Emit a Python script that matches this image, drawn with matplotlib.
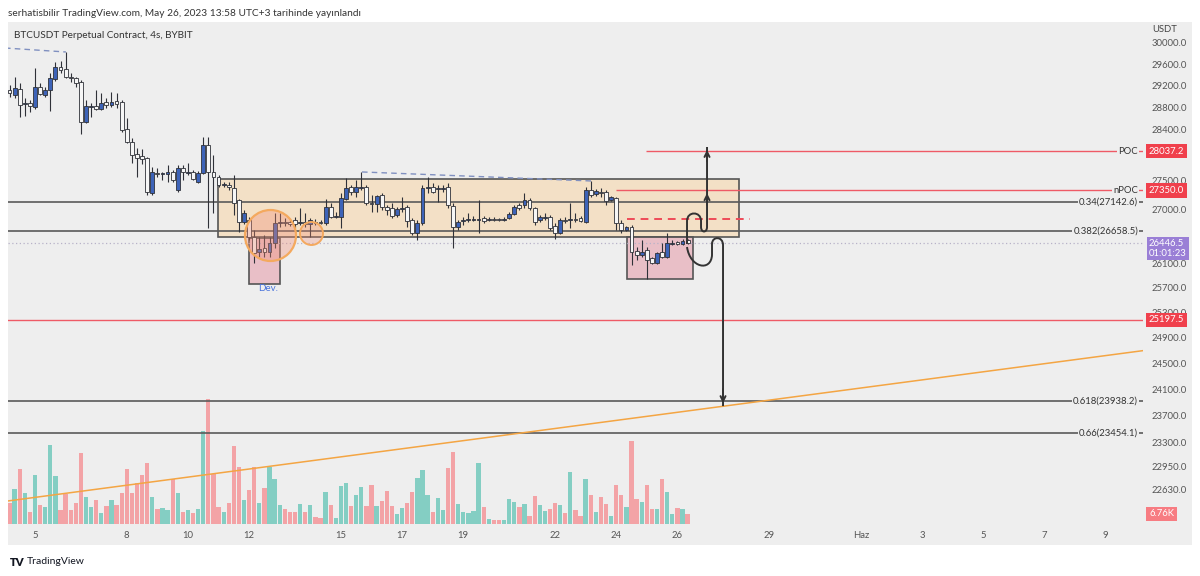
import numpy as np
import matplotlib
matplotlib.use("Agg")
import matplotlib.pyplot as plt
from matplotlib.patches import Rectangle, PathPatch
from matplotlib.path import Path

plt.rcParams['font.family'] = ['Lato', 'DejaVu Sans']

# ---------------- data ----------------
opens = [29140, 29048, 29159, 28884, 28902, 28829, 29196, 29048, 29140, 29344,
         29567, 29530, 29381, 29362, 29288, 28557, 28829, 28847, 28792, 28920,
         28866, 28939, 28920, 28431, 28198, 27985, 27950, 27914, 27304, 27652,
         27634, 27634, 27669, 27356, 27739, 27652, 27669, 27494, 27652, 28145,
         27669, 27581, 27442, 27442, 27391, 27183, 26808, 26842, 26554, 26304,
         26370, 26304, 26454, 26791, 26808, 26808, 26842, 26791, 26808, 26774,
         26808, 26808, 26791, 27063, 26893, 26893, 27200, 27408, 27321, 27391,
         27408, 27132, 27115, 27270, 27063, 27046, 26927, 27029, 27063, 26842,
         26622, 26791, 27391, 27408, 27373, 27373, 27408, 27081, 26723, 26825,
         26842, 26842, 26842, 26876, 26842, 26859, 26859, 26842, 26876, 26944,
         27098, 27098, 27183, 27046, 26842, 26876, 26893, 26740, 26622, 26842,
         26842, 26859, 26876, 26808, 27356, 27287, 27321, 27321, 27183, 27218,
         26791, 26672, 26723, 26320, 26254, 26337, 26204, 26121, 26304, 26221,
         26437, 26471, 26437, 26504]
highs = [29232, 29381, 29270, 28994, 28957, 29548, 29270, 29196, 29455, 29661,
         29680, 29849, 29455, 29381, 29325, 28957, 28902, 29140, 29085, 28994,
         29103, 29085, 28957, 28629, 28270, 28092, 28074, 27932, 27757, 27739,
         27669, 27792, 27704, 27792, 27792, 27826, 27704, 27687, 28288, 28288,
         27967, 27617, 27494, 27494, 27617, 27200, 27012, 26893, 26672, 26554,
         26588, 26554, 26961, 26961, 26876, 26859, 26893, 27046, 26961, 26876,
         26859, 26842, 27200, 27132, 26978, 27304, 27564, 27442, 27529, 27669,
         27442, 27270, 27270, 27304, 27098, 27132, 27063, 27235, 27098, 26876,
         26842, 27442, 27581, 27477, 27442, 27442, 27477, 27132, 26842, 26893,
         26961, 26910, 27183, 26910, 26893, 26893, 26876, 26893, 26978, 27098,
         27132, 27304, 27218, 27063, 26927, 26961, 26927, 26791, 26876, 26893,
         27132, 26961, 26910, 27408, 27512, 27373, 27391, 27356, 27252, 27235,
         26842, 26740, 26757, 26387, 26504, 26387, 26221, 26304, 26454, 26622,
         26504, 26487, 26521, 26521]
lows = [29012, 28994, 28647, 28665, 28738, 28792, 29048, 29012, 28756, 29307,
        29455, 29362, 29288, 29196, 28341, 28539, 28647, 28774, 28774, 28811,
        28829, 28811, 28377, 28181, 27826, 27581, 27809, 27270, 27270, 27581,
        27529, 27494, 27494, 27321, 27529, 27617, 27529, 27477, 27634, 26706,
        26961, 27408, 27408, 27356, 26927, 26638, 26774, 26504, 26121, 26221,
        26221, 26221, 26370, 26723, 26740, 26740, 26706, 26757, 26723, 26554,
        26757, 26774, 26757, 26876, 26876, 26706, 27183, 27270, 27235, 27356,
        27098, 26978, 26978, 27012, 26927, 26876, 26893, 26978, 26723, 26588,
        26504, 26757, 27304, 27304, 27149, 27321, 27046, 26370, 26672, 26757,
        26808, 26825, 26622, 26791, 26825, 26825, 26825, 26825, 26859, 26927,
        27012, 27046, 27012, 26757, 26808, 26842, 26672, 26521, 26605, 26791,
        26706, 26808, 26808, 26791, 27235, 27252, 27235, 27098, 27166, 26672,
        26622, 26655, 26088, 26171, 26221, 25859, 26105, 26105, 26204, 26204,
        26420, 26420, 26420, 26437]
closes = [29085, 29177, 28866, 28902, 28847, 29196, 29067, 29140, 29362, 29567,
          29511, 29381, 29362, 29270, 28557, 28847, 28847, 28792, 28902, 28866,
          28920, 28884, 28413, 28198, 27967, 27914, 27897, 27321, 27669, 27634,
          27652, 27669, 27529, 27739, 27669, 27669, 27547, 27652, 28145, 27669,
          27581, 27442, 27460, 27408, 27132, 26808, 26961, 26554, 26287, 26354,
          26304, 26454, 26791, 26808, 26791, 26774, 26774, 26808, 26774, 26842,
          26791, 26791, 27063, 26893, 26910, 27218, 27391, 27321, 27408, 27408,
          27132, 27115, 27252, 27063, 27012, 26910, 27029, 27046, 26825, 26622,
          26791, 27391, 27408, 27321, 27391, 27391, 27098, 26723, 26808, 26842,
          26859, 26859, 26859, 26825, 26859, 26842, 26842, 26859, 26944, 27063,
          27046, 27183, 27046, 26808, 26893, 26893, 26706, 26622, 26842, 26825,
          26859, 26842, 26825, 27356, 27270, 27339, 27304, 27166, 27235, 26791,
          26672, 26723, 26304, 26254, 26304, 26171, 26121, 26287, 26221, 26454,
          26454, 26437, 26487, 26446.5]
volumes_k = [14.2, 23.7, 37.2, 21.0, 8.1, 33.1, 12.8, 11.5, 53.4, 32.4,
             9.5, 20.3, 9.5, 14.2, 48.0, 18.3, 11.5, 16.2, 7.4, 12.2,
             16.2, 12.8, 21.0, 37.2, 21.0, 27.7, 33.1, 41.2, 18.3, 10.1,
             10.8, 9.5, 30.4, 21.0, 8.1, 9.5, 7.4, 10.1, 62.9, 84.5,
             33.8, 11.5, 8.1, 14.2, 52.7, 38.5, 16.2, 23.0, 38.5, 14.2,
             24.3, 38.5, 30.4, 12.8, 10.1, 8.1, 8.1, 13.5, 8.1, 12.8,
             4.7, 4.1, 21.6, 12.8, 4.1, 25.7, 27.7, 12.2, 19.6, 25.0,
             12.2, 26.4, 12.2, 15.5, 22.3, 12.2, 6.8, 10.8, 14.2, 21.6,
             31.1, 36.5, 19.6, 8.1, 17.6, 9.5, 37.9, 48.7, 13.5, 8.1,
             7.4, 8.8, 41.2, 11.5, 3.4, 2.7, 2.7, 2.7, 16.9, 14.9,
             11.5, 13.5, 5.4, 18.9, 12.8, 8.8, 10.1, 14.2, 12.8, 7.4,
             35.2, 9.5, 5.4, 30.4, 19.6, 8.1, 18.3, 13.5, 5.4, 26.4,
             19.6, 11.5, 56.1, 16.9, 14.9, 26.4, 10.1, 10.1, 30.4, 21.6,
             6.8, 10.8, 10.1, 6.76]

first_bar_day = 4 + 4 / 24      # 4 May, 04:00 (UTC+3)
bar_hours = 4

# visible price-scale labels (those hidden under the coloured tags are left out)
price_ticks = [30000, 29600, 29200, 28800, 28400, 27500, 27000,
               26100, 25700, 25300, 24900, 24500, 24100, 23700, 23300, 22950,
               22630]
date_tick_days = [5, 8, 10, 12, 15, 17, 19, 22, 24, 26, 29, 32, 34, 36, 38, 40]
date_tick_labels = ['5', '8', '10', '12', '15', '17', '19', '22', '24', '26',
                    '29', 'Haz', '3', '5', '7', '9']

fib_ratios = ['0.34', '0.382', '0.618', '0.66']
fib_prices = [27142.6, 26658.5, 23938.2, 23454.1]
poc_price = 28037.2
npoc_price = 27350.0
support_price = 25197.5
last_price = 26446.5
countdown = '01:01:23'
last_volume_label = '6.76K'

# drawings (day-of-May, price)
range_box = (10.98, 26554, 28.01, 27547)
dev_box = (11.996, 25778, 13.01, 26537)
right_box = (24.35, 25859, 26.51, 26554)
dashed_red = (24.35, 28.37, 26859)
poc_start, npoc_start = 24.97, 23.99
blue_dash_1 = ([4.02, 6.01], [29924, 29849])
blue_dash_2 = ([15.69, 23.18], [27669, 27512])
trend_x = [4.117, 41.22]
trend_y = [22474, 24714]
big_circle = (12.68, 26588)
small_circle = (14.02, 26622)
dev_label_pos = (12.62, 25696)
last_tag_anchor = 26362

up_path_days = [26.314, 26.314, 26.314, 26.772, 26.772, 26.772, 26.772, 26.968, 26.968, 26.968]
up_path_prices = [26437, 26825, 26995, 26995, 26825, 26723, 26622, 26622, 26723, 28109]
dn_path_days = [26.314, 26.412, 27.099, 27.131, 27.131, 27.131, 27.491, 27.491, 27.491]
dn_path_prices = [26387, 26039, 25973, 26254, 26437, 26571, 26571, 26420, 23863]

# ---------------- figure ----------------
W, H = 1200, 576
fig = plt.figure(figsize=(12, 5.76), dpi=100)
fig.patch.set_facecolor('white')


def fx(px):
    return px / W


def fy(py):
    return 1 - py / H


BG = '#eeeeee'
fig.patches.append(Rectangle((fx(8), fy(545)), fx(1192) - fx(8), fy(22) - fy(545),
                             transform=fig.transFigure, fc=BG, ec='none', zorder=-5))

rect = [fx(8), fy(527), fx(1143) - fx(8), fy(22) - fy(527)]
axv = fig.add_axes(rect)
ax = fig.add_axes(rect, sharex=axv)
for a in (axv, ax):
    a.set_facecolor('none')
    for s in a.spines.values():
        s.set_visible(False)
    a.tick_params(left=False, right=False, labelleft=False)

ax.set_yscale('log')
ax.set_ylim(22107, 30420)
ax.set_xlim(4.117, 41.22)
axv.set_ylim(-2.03, 339.4)
ax.yaxis.set_major_locator(plt.NullLocator())
ax.yaxis.set_minor_locator(plt.NullLocator())
axv.yaxis.set_major_locator(plt.NullLocator())

o = np.array(opens, float)
h = np.array(highs, float)
l = np.array(lows, float)
c = np.array(closes, float)
v = np.array(volumes_k, float)
n = len(o)
days = first_bar_day + np.arange(n) * bar_hours / 24
up = c >= o

# volume
axv.bar(days, v, width=0.14, color=np.where(up, '#84cec3', '#f3a3a6'), zorder=1)

# level lines
for p in fib_prices:
    ax.axhline(p, color='#5a5a5a', lw=1.2, zorder=3)
ax.axhline(support_price, color='#ee5a66', lw=1.0, zorder=3)
ax.hlines(poc_price, poc_start, 41.22, color='#ee5a66', lw=1.0, zorder=3)
ax.hlines(npoc_price, npoc_start, 41.22, color='#ee5a66', lw=1.0, zorder=3)
ax.axhline(last_price, color='#b7b2c8', lw=0.9, ls=(0, (1, 2)), zorder=3)
ax.hlines(dashed_red[2], dashed_red[0], dashed_red[1], color='#ee4a58', lw=1.4,
          ls=(0, (4, 3)), zorder=4)


# boxes
def box(b, fc, z):
    x0, y0, x1, y1 = b
    ax.add_patch(Rectangle((x0, y0), x1 - x0, y1 - y0, fc=fc, ec='#555555', lw=1.2, zorder=z))


box(range_box, (0.99, 0.80, 0.55, 0.40), 2)
box(dev_box, (0.90, 0.60, 0.66, 0.55), 2.5)
box(right_box, (0.90, 0.60, 0.66, 0.55), 2.5)

# trend + dashed connectors
ax.plot(trend_x, trend_y, color='#f4a543', lw=1.1, zorder=4)
ax.plot(*blue_dash_1, color='#8090c0', lw=1.0, ls=(0, (4, 3)), zorder=4)
ax.plot(*blue_dash_2, color='#8090c0', lw=1.0, ls=(0, (4, 3)), zorder=4)

# candles
ax.vlines(days, l, h, color='#2f3138', lw=0.8, zorder=5)
body_lo = np.minimum(o, c)
body_h = np.maximum(np.abs(c - o), 3)
ax.bar(days, body_h, bottom=body_lo, width=0.125,
       color=np.where(up, '#3d63b8', '#f6f6f6'), edgecolor='#2f3138', lw=0.6, zorder=6)

# circles
ax.scatter([big_circle[0]], [big_circle[1]], s=(51 * 0.72) ** 2,
           fc=(0.95, 0.55, 0.45, 0.35), ec='#f4a95e', lw=1.6, zorder=7)
ax.scatter([small_circle[0]], [small_circle[1]], s=(23 * 0.72) ** 2,
           fc=(0.95, 0.55, 0.45, 0.30), ec='#f4a95e', lw=1.4, zorder=7)
ax.text(*dev_label_pos, 'Dev.', color='#4a74dc', fontsize=7, ha='center', va='center', zorder=8)

# arrow paths
codes_up = [Path.MOVETO, Path.LINETO, Path.CURVE4, Path.CURVE4, Path.CURVE4,
            Path.LINETO, Path.CURVE4, Path.CURVE4, Path.CURVE4, Path.LINETO]
ax.add_patch(PathPatch(Path(np.column_stack([up_path_days, up_path_prices]), codes_up),
                       fc='none', ec='#333333', lw=1.4, zorder=8))
codes_dn = [Path.MOVETO, Path.CURVE4, Path.CURVE4, Path.CURVE4, Path.LINETO,
            Path.CURVE4, Path.CURVE4, Path.CURVE4, Path.LINETO]
ax.add_patch(PathPatch(Path(np.column_stack([dn_path_days, dn_path_prices]), codes_dn),
                       fc='none', ec='#333333', lw=1.4, zorder=8))
arrow_kw = dict(arrowstyle='->', color='#333333', lw=1.4, mutation_scale=9)
ax.annotate('', xy=(up_path_days[-1], up_path_prices[-1]),
            xytext=(up_path_days[-1], up_path_prices[-1] - 300), arrowprops=arrow_kw, zorder=8)
ax.annotate('', xy=(up_path_days[-1], npoc_price),
            xytext=(up_path_days[-1], npoc_price - 300), arrowprops=arrow_kw, zorder=8)
ax.annotate('', xy=(dn_path_days[-1], dn_path_prices[-1]),
            xytext=(dn_path_days[-1], dn_path_prices[-1] + 300), arrowprops=arrow_kw, zorder=8)


# right-side texts on the lines
def xa(px):
    return (px - 8) / (1143 - 8)


ytr = ax.get_yaxis_transform()
lbl_kw = dict(fontsize=6.8, color='#333333', ha='right', va='center', transform=ytr, zorder=9,
              bbox=dict(boxstyle='square,pad=0.15', fc=BG, ec='none'))
for r, p in zip(fib_ratios, fib_prices):
    ax.text(xa(1138), p, f'{r}({p:.1f})', **lbl_kw)
ax.text(xa(1138), poc_price, 'POC', **lbl_kw)
ax.text(xa(1138), npoc_price, 'nPOC', **lbl_kw)

# price scale
for p in price_ticks:
    ax.text(xa(1152), p, f'{p:.1f}', fontsize=6.8, color='#555555', ha='left', va='center',
            transform=ytr, clip_on=False, zorder=9)


def tag(p, s, col, axis=ax):
    axis.text(xa(1149), p, s, fontsize=6.8, color='white', ha='left', va='center',
              transform=axis.get_yaxis_transform(), clip_on=False, zorder=12,
              bbox=dict(boxstyle='square,pad=0.3', fc=col, ec='none'))


tag(poc_price, f'{poc_price:.1f}', '#f0404c')
tag(npoc_price, f'{npoc_price:.1f}', '#f0404c')
tag(support_price, f'{support_price:.1f}', '#f0404c')
ax.text(xa(1149), last_tag_anchor, f'{last_price:.1f}\n{countdown}', fontsize=6.8, color='white',
        ha='left', va='center', transform=ytr, clip_on=False, zorder=12, linespacing=1.15,
        bbox=dict(boxstyle='square,pad=0.25', fc='#9a7fd6', ec='none'))
tag(volumes_k[-1], last_volume_label, '#f77c82', axis=axv)

fig.text(fx(1152), fy(30), 'USDT', fontsize=6.8, color='#444444', va='center', ha='left')

# time axis
axv.set_xticks(date_tick_days)
axv.set_xticklabels(date_tick_labels)
axv.tick_params(axis='x', length=0, pad=3, labelsize=6.8, labelcolor='#555555')
ax.tick_params(axis='x', length=0, labelbottom=False)

# header / footer
fig.text(fx(8), fy(13), 'serhatisbilir TradingView.com, May 26, 2023 13:58 UTC+3 tarihinde yayınlandı',
         fontsize=7.25, color='#333333', va='center', ha='left')
fig.text(fx(14), fy(35), 'BTCUSDT Perpetual Contract, 4s, BYBIT', fontsize=7.2,
         color='#333333', va='center', ha='left')
fig.text(fx(10), fy(562), 'TV', fontsize=8, fontweight='heavy', color='#131722', va='center', ha='left')
fig.text(fx(27), fy(562), 'TradingView', fontsize=7.5, color='#131722', va='center', ha='left')

fig.savefig('out.png', dpi=100, facecolor='white')
